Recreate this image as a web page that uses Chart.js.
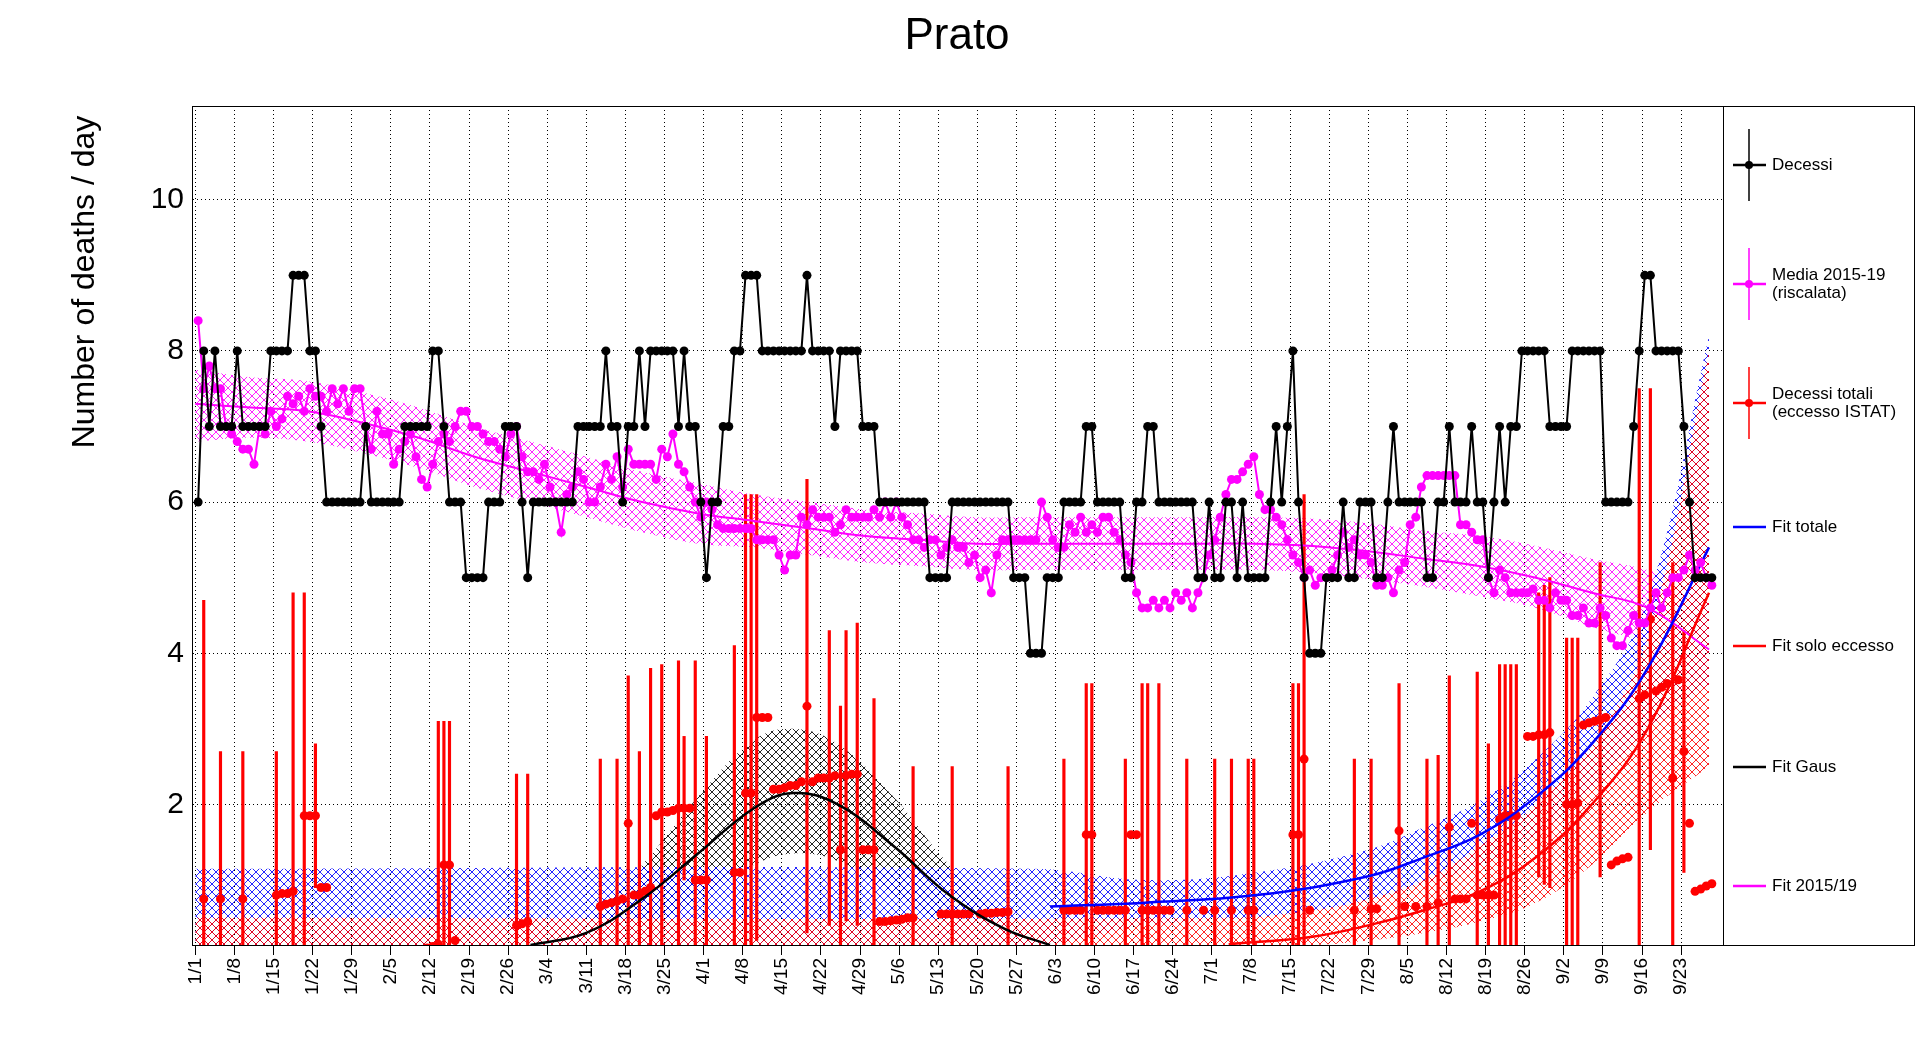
<!doctype html>
<html lang="it">
<head>
<meta charset="utf-8">
<style>
  html, body { margin: 0; padding: 0; background: #fff; }
  #wrap { width: 1916px; height: 1052px; }
</style>
</head>
<body>
<div id="wrap"><canvas id="myChart" width="1916" height="1052"></canvas></div>
<script src="https://cdn.jsdelivr.net/npm/chart.js"></script>
<script>
// --- data (day index from 1 Jan 2020) ---
const tickLabels = ['1/1','1/8','1/15','1/22','1/29','2/5','2/12','2/19','2/26','3/4','3/11','3/18','3/25',
  '4/1','4/8','4/15','4/22','4/29','5/6','5/13','5/20','5/27','6/3','6/10','6/17','6/24','7/1','7/8','7/15',
  '7/22','7/29','8/5','8/12','8/19','8/26','9/2','9/9','9/16','9/23'];
const tickDays = tickLabels.map((l, i) => i * 7);

const decessi = [
  6,8,7,8,7,7,7,8,7,7, 7,7,7,8,8,8,8,9,9,9, 8,8,7,6,6,6,6,6,6,6, 7,6,6,6,6,6,6,7,7,7,
  7,7,8,8,7,6,6,6,5,5, 5,5,6,6,6,7,7,7,6,5, 6,6,6,6,6,6,6,6,7,7, 7,7,7,8,7,7,6,7,7,8,
  7,8,8,8,8,8,7,8,7,7, 6,5,6,6,7,7,8,8,9,9, 9,8,8,8,8,8,8,8,8,9, 8,8,8,8,7,8,8,8,8,7,
  7,7,6,6,6,6,6,6,6,6, 6,5,5,5,5,6,6,6,6,6, 6,6,6,6,6,6,5,5,5,4, 4,4,5,5,5,6,6,6,6,7,
  7,6,6,6,6,6,5,5,6,6, 7,7,6,6,6,6,6,6,6,5, 5,6,5,5,6,6,5,6,5,5, 5,5,6,7,6,7,8,6,5,4,
  4,4,5,5,5,6,5,5,6,6, 6,5,5,6,7,6,6,6,6,6, 5,5,6,6,7,6,6,6,7,6, 6,5,6,7,6,7,7,8,8,8,
  8,8,7,7,7,7,8,8,8,8, 8,8,6,6,6,6,6,7,8,9, 9,8,8,8,8,8,7,6,5,5, 5,5];

const media = [
  8.4,7.5,7.8,7.5,7.5,7.0,6.9,6.8,6.7,6.7, 6.5,7.0,6.9,7.2,7.0,7.1,7.4,7.3,7.4,7.2,
  7.5,7.4,7.4,7.2,7.5,7.3,7.5,7.2,7.5,7.5, 7.0,6.7,7.2,6.9,6.9,6.5,6.7,6.8,6.9,6.6,
  6.3,6.2,6.5,6.8,6.9,6.8,7.0,7.2,7.2,7.0, 7.0,6.9,6.8,6.8,6.7,6.6,6.9,7.0,6.6,6.4,
  6.4,6.3,6.5,6.2,6.0,5.6,6.1,6.2,6.4,6.3, 6.0,6.0,6.2,6.5,6.3,6.6,6.2,6.7,6.5,6.5,
  6.5,6.5,6.3,6.7,6.6,6.9,6.5,6.4,6.2,6.0, 5.8,6.0,5.9,5.7,5.65,5.65,5.65,5.65,5.65,5.65,
  5.5,5.5,5.5,5.5,5.3,5.1,5.3,5.3,5.8,5.7, 5.9,5.8,5.8,5.8,5.6,5.7,5.9,5.8,5.8,5.8,
  5.8,5.9,5.8,6.0,5.8,6.0,5.8,5.7,5.5,5.5, 5.4,5.5,5.5,5.3,5.4,5.5,5.4,5.4,5.2,5.3,
  5.0,5.1,4.8,5.3,5.5,5.5,5.5,5.5,5.5,5.5, 5.5,6.0,5.8,5.5,5.4,5.4,5.7,5.6,5.8,5.6,
  5.7,5.6,5.8,5.8,5.6,5.5,5.3,5.2,4.8,4.6, 4.6,4.7,4.6,4.7,4.6,4.8,4.7,4.8,4.6,4.8,
  5.0,5.3,5.5,5.8,6.1,6.3,6.3,6.4,6.5,6.6, 6.1,5.9,5.9,5.8,5.7,5.5,5.3,5.2,5.0,5.1,
  4.9,5.0,5.0,5.1,5.3,5.6,5.4,5.5,5.3,5.3, 5.2,4.9,4.9,5.0,4.8,5.1,5.2,5.7,5.8,6.2,
  6.35,6.35,6.35,6.35,6.35,6.35,5.7,5.7,5.6,5.5, 5.5,5.0,4.8,5.1,5.0,4.8,4.8,4.8,4.8,4.85,
  4.7,4.7,4.6,4.8,4.7,4.7,4.5,4.5,4.6,4.4, 4.4,4.6,4.5,4.2,4.1,4.1,4.3,4.5,4.4,4.4,
  4.6,4.8,4.6,4.8,5.0,5.0,5.1,5.3,5.1,5.2, 5.0,4.9];

// excess ISTAT points: day, value
const eccDays = [1,4,8,14,15,16,17,19,20,21,22,23, 41,42,43,44,45,46,57,58,59,
  72,73,74,75,76,77,78,79,80,81,82,83,84,85,86,87,88,89,90,91,
  96,97,98,99,100,101,102,103,104,105,106,107,108,109,110,111,112,113,114,115,116,117,118,119,120,121,
  122,123,124,125,126,127,128,133,134,135,136,137,138,140,141,142,143,144,145,
  155,156,157,158,159,160,161,162,163,164,165,166,167,168,169,170,171,172,173,174,177,180,182,185,188,189,
  196,197,198,199,207,210,211,215,216,218,220,222,224,225,226,227,228,229,230,231,232,233,234,235,236,
  238,239,240,241,242,245,246,247,248,249,250,251,252,253,254,255,256,258,259,260,261,262,263,264,265,266,267,268,269,270,271];
const eccVals = [0.75,0.75,0.75,0.8,0.82,0.82,0.85,1.85,1.85,1.85,0.9,0.9, 0.1,0.12,0.15,1.2,1.2,0.2,0.4,0.42,0.45,
  0.65,0.68,0.7,0.72,0.75,1.75,0.8,0.8,0.85,0.9,1.85,1.9,1.9,1.92,1.95,1.95,1.95,1.0,1.0,1.0,
  1.1,1.1,2.15,2.15,3.15,3.15,3.15,2.2,2.2,2.22,2.25,2.25,2.3,3.3,2.3,2.35,2.35,2.35,2.38,1.4,2.38,2.4,2.4,1.4,1.4,1.4,
  0.45,0.45,0.46,0.47,0.48,0.5,0.5,0.55,0.55,0.55,0.55,0.55,0.55,0.55,0.56,0.56,0.57,0.57,0.58,
  0.6,0.6,0.6,0.6,1.6,1.6,0.6,0.6,0.6,0.6,0.6,0.6,1.6,1.6,0.6,0.6,0.6,0.6,0.6,0.6,0.6,0.6,0.6,0.6,0.6,0.6,
  1.6,1.6,2.6,0.6,0.6,0.62,0.62,1.65,0.65,0.65,0.65,0.7,1.7,0.75,0.75,0.75,1.75,0.8,0.8,0.8,0.8,1.8,1.85,1.85,1.85,
  2.9,2.9,2.92,2.92,2.95,2.0,2.0,2.02,3.05,3.08,3.1,3.12,3.15,1.2,1.25,1.28,1.3,3.4,3.45,4.45,3.5,3.55,3.6,2.35,3.65,2.7,1.75,0.85,0.88,0.92,0.95];
// days that show an error bar, with the top of the bar
const errTopDays = [1,4,8,14,17,19,21,43,44,45,57,59,72,75,77,79,81,83,86,87,89,91,96,98,99,100,
  109,113,115,116,118,121,128,135,145,155,159,160,166,169,170,172,178,182,185,188,189,196,197,198,
  207,210,215,220,222,224,229,231,233,234,235,236,240,241,242,245,246,247,251,258,260,264,266];
const errTops = [4.7,2.7,2.7,2.7,4.8,4.8,2.8,3.1,3.1,3.1,2.4,2.4,2.6,2.6,3.7,2.7,3.8,3.85,3.9,2.9,3.9,2.9,4.1,6.1,6.1,6.1,
  6.3,4.3,3.3,4.3,4.4,3.4,2.5,2.5,2.5,2.6,3.6,3.6,2.6,3.6,3.6,3.6,2.6,2.6,2.6,2.6,2.6,3.6,3.6,6.1,
  2.6,2.6,3.6,2.6,2.65,3.7,3.75,2.8,3.85,3.85,3.85,3.85,4.8,4.9,5.0,4.2,4.2,4.2,5.2,7.5,7.5,5.2,4.3];

// fit curves
const fitMediaDays = [0,10,20,30,40,50,60,70,80,90,100,110,120,130,140,150,160,170,180,190,200,210,220,230,240,250,260,271];
const fitMedia = [7.3,7.25,7.2,7.05,6.85,6.6,6.4,6.2,6.0,5.85,5.75,5.65,5.55,5.5,5.45,5.45,5.45,5.45,5.45,5.45,5.42,5.35,5.25,5.15,5.0,4.8,4.6,4.05];
const fitMediaHi = [7.75,7.65,7.6,7.45,7.25,7.0,6.8,6.6,6.4,6.25,6.1,6.0,5.9,5.85,5.8,5.8,5.8,5.8,5.8,5.8,5.78,5.72,5.62,5.55,5.42,5.25,5.1,4.8];
const fitMediaLo = [6.8,6.85,6.8,6.65,6.45,6.2,6.0,5.8,5.6,5.45,5.4,5.3,5.2,5.15,5.1,5.1,5.1,5.1,5.1,5.1,5.06,4.98,4.88,4.75,4.6,4.35,4.1,3.5];

const fitTotDays = [153,170,190,210,220,230,240,250,260,271];
const fitTot = [0.65,0.7,0.8,1.05,1.3,1.6,2.1,2.8,3.8,5.4];
const bandTotDays = [0,150,170,190,210,220,230,240,250,260,271];
const bandTotHi = [1.15,1.15,1.0,1.1,1.4,1.7,2.05,2.6,3.4,4.7,8.2];
const bandTotLo = [0.14,0.14,0.4,0.5,0.72,0.95,1.2,1.6,2.2,3.0,3.6];

const fitEccDays = [185,200,210,220,230,240,250,260,271];
const fitEcc = [0.15,0.25,0.4,0.6,0.85,1.3,2.0,3.0,4.8];
const bandEccDays = [0,185,200,210,220,230,240,250,260,271];
const bandEccHi = [0.5,0.5,0.6,0.75,1.0,1.45,2.0,2.8,4.2,8.0];
const bandEccLo = [0.14,0.14,0.14,0.2,0.3,0.45,0.7,1.2,1.9,2.5];

const gausDays = [60,70,80,90,100,107,115,125,135,145,153];
const gaus = [0.14,0.3,0.75,1.35,1.95,2.15,2.0,1.45,0.8,0.35,0.14];
const gausHi = [0.15,0.5,1.2,2.1,2.85,3.0,2.8,2.1,1.2,0.55,0.15];
const gausLo = [0.14,0.14,0.35,0.75,1.2,1.35,1.25,0.8,0.4,0.14,0.14];

// --- helpers ---
function xy(days, vals) { return days.map((d, i) => ({x: d, y: vals[i]})); }

function hatch(color) {
  const c = document.createElement('canvas');
  c.width = 8; c.height = 8;
  const g = c.getContext('2d');
  g.strokeStyle = color; g.lineWidth = 1;
  g.beginPath();
  g.moveTo(0, 0); g.lineTo(8, 8);
  g.moveTo(8, 0); g.lineTo(0, 8);
  g.stroke();
  return g.createPattern(c, 'repeat');
}

function band(days, lo, hi, color) {
  return [
    {type: 'line', data: xy(days, lo), borderWidth: 0, pointRadius: 0, fill: false, tension: 0.4, order: 10},
    {type: 'line', data: xy(days, hi), borderWidth: 0, pointRadius: 0, fill: '-1', backgroundColor: hatch(color), tension: 0.4, order: 10}
  ];
}

const decessiData = decessi.map((v, i) => ({x: i + 0.5, y: v}));
const mediaData = media.map((v, i) => ({x: i + 0.5, y: v}));
const eccPts = eccDays.map((d, i) => ({x: d + 0.5, y: eccVals[i]}));
const eccBars = errTopDays.map((d, k) => {
  let best = 0;
  eccDays.forEach((e, i) => { if (Math.abs(e - d) < Math.abs(eccDays[best] - d)) best = i; });
  const v = eccVals[best], err = errTops[k] - v;
  return {x: eccDays[best] + 0.5, y: [v - err, v + err]};
});

const PL = 192, PR = 1723, PT = 106, PB = 945;

const deco = {
  id: 'deco',
  afterDraw(chart) {
    const c = chart.ctx;
    c.save();
    c.fillStyle = '#000';
    c.font = '44px "Liberation Sans", Arial, sans-serif';
    c.textAlign = 'center'; c.textBaseline = 'middle';
    c.fillText('Prato', 957, 37);
    c.save();
    c.translate(85, 282); c.rotate(-Math.PI / 2);
    c.font = '32px "Liberation Sans", Arial, sans-serif';
    c.fillText('Number of deaths / day', 0, 0);
    c.restore();
    c.strokeStyle = '#000'; c.lineWidth = 1;
    c.strokeRect(PL + 0.5, PT + 0.5, PR - PL, PB - PT);
    c.strokeRect(PR + 0.5, PT + 0.5, 1914 - PR, PB - PT);
    const ent = [
      {y: 165, t: ['Decessi'], col: '#000', err: 36, pt: true},
      {y: 284, t: ['Media 2015-19', '(riscalata)'], col: '#ff00ff', err: 36, pt: true},
      {y: 403, t: ['Decessi totali', '(eccesso ISTAT)'], col: '#ff0000', err: 36, pt: true},
      {y: 527, t: ['Fit totale'], col: '#0000ff'},
      {y: 646, t: ['Fit solo eccesso'], col: '#ff0000'},
      {y: 767, t: ['Fit Gaus'], col: '#000'},
      {y: 886, t: ['Fit 2015/19'], col: '#ff00ff'}
    ];
    c.font = '17px "Liberation Sans", Arial, sans-serif';
    c.textAlign = 'left';
    ent.forEach(e => {
      c.strokeStyle = e.col; c.fillStyle = e.col; c.lineWidth = 2.5;
      c.beginPath(); c.moveTo(1733, e.y); c.lineTo(1766, e.y); c.stroke();
      if (e.err) {
        c.lineWidth = 1.5;
        c.beginPath(); c.moveTo(1749, e.y - e.err); c.lineTo(1749, e.y + e.err); c.stroke();
      }
      if (e.pt) { c.beginPath(); c.arc(1749, e.y, 4, 0, 2 * Math.PI); c.fill(); }
      c.fillStyle = '#000';
      const y0 = e.y - (e.t.length - 1) * 9;
      e.t.forEach((s, k) => c.fillText(s, 1772, y0 + k * 18));
    });
    c.restore();
  }
};

new Chart(document.getElementById('myChart'), {
  type: 'line',
  data: {
    datasets: [
      ...band(bandEccDays, bandEccLo, bandEccHi, 'rgba(255,0,0,0.85)'),
      ...band(bandTotDays, bandTotLo, bandTotHi, 'rgba(0,0,255,0.85)'),
      ...band(gausDays, gausLo, gausHi, 'rgba(0,0,0,0.85)'),
      ...band(fitMediaDays, fitMediaLo, fitMediaHi, 'rgba(255,0,255,0.85)'),
      {type: 'bar', data: eccBars, backgroundColor: '#ff0000', barThickness: 2.5, order: 6},
      {type: 'line', data: eccPts, showLine: false, pointRadius: 4.5, pointBackgroundColor: '#ff0000', pointBorderWidth: 0, order: 5},
      {type: 'line', data: xy(fitMediaDays, fitMedia), borderColor: '#ff00ff', borderWidth: 2, pointRadius: 0, tension: 0.4, fill: false, order: 4},
      {type: 'line', data: xy(gausDays, gaus), borderColor: '#000', borderWidth: 2.5, pointRadius: 0, tension: 0.4, fill: false, order: 3},
      {type: 'line', data: xy(fitTotDays, fitTot), borderColor: '#0000ff', borderWidth: 2.5, pointRadius: 0, tension: 0.4, fill: false, order: 3},
      {type: 'line', data: xy(fitEccDays, fitEcc), borderColor: '#ff0000', borderWidth: 2.5, pointRadius: 0, tension: 0.4, fill: false, order: 3},
      {type: 'line', data: mediaData, borderColor: '#ff00ff', borderWidth: 2, pointRadius: 4.5, pointBackgroundColor: '#ff00ff', pointBorderWidth: 0, fill: false, order: 2},
      {type: 'line', data: decessiData, borderColor: '#000', borderWidth: 2, pointRadius: 4.5, pointBackgroundColor: '#000', pointBorderWidth: 0, fill: false, order: 1}
    ]
  },
  options: {
    responsive: false,
    animation: false,
    clip: 0,
    layout: {padding: {left: 0, right: 1916 - PR, top: PT, bottom: 0}},
    plugins: {legend: {display: false}, tooltip: {enabled: false}},
    scales: {
      x: {
        type: 'linear', min: -0.6, max: 273.5, offset: false,
        afterBuildTicks: a => { a.ticks = tickDays.map(v => ({value: v})); },
        afterFit: s => { s.height = 1052 - PB; },
        ticks: {
          autoSkip: false, minRotation: 90, maxRotation: 90, color: '#000',
          font: {size: 19, family: '"Liberation Sans", Arial, sans-serif'},
          callback: (v) => tickLabels[tickDays.indexOf(v)] || ''
        },
        grid: {color: '#000', lineWidth: 1, tickLength: 10, drawTicks: true, offset: false},
        border: {dash: [1, 3], display: true, color: '#000'}
      },
      y: {
        min: 0.14, max: 11.24,
        afterBuildTicks: a => { a.ticks = [2, 4, 6, 8, 10].map(v => ({value: v})); },
        afterFit: s => { s.width = PL; },
        ticks: {color: '#000', font: {size: 30, family: '"Liberation Sans", Arial, sans-serif'}, padding: 8},
        grid: {color: '#000', lineWidth: 1, tickLength: 0},
        border: {dash: [1, 3], display: true, color: '#000'}
      }
    }
  },
  plugins: [deco]
});
</script>
</body>
</html>
